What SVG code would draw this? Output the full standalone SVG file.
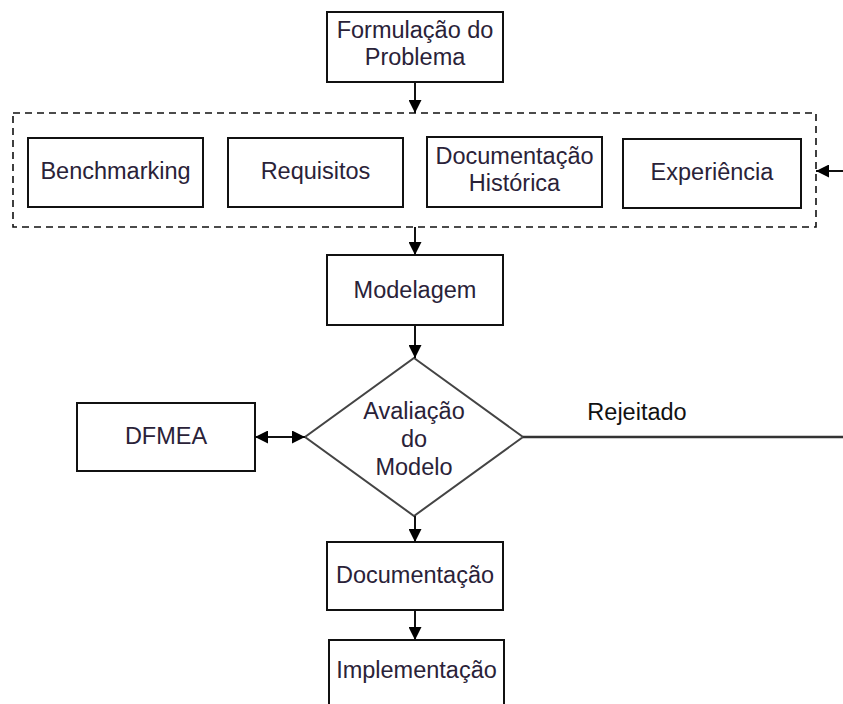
<svg xmlns="http://www.w3.org/2000/svg" width="843" height="704" viewBox="0 0 843 704">
  <style>
    .box { fill: #fff; stroke: #111; stroke-width: 2; }
    .dec { fill: #fff; stroke: #444; stroke-width: 2; }
    .grp { fill: none; stroke: #111; stroke-width: 1.6; stroke-dasharray: 7 5; }
    .lbl { font-family: "Liberation Sans", Arial, sans-serif; font-size: 23.5px; fill: #2a2238; text-anchor: middle; }
    .edge { fill: none; stroke: #111; stroke-width: 2; }
    .plain { fill: none; stroke: #333; stroke-width: 2.5; }
  </style>
  <defs>
    <marker id="arrow" viewBox="0 0 10 10" refX="10" refY="5" markerWidth="6.5" markerHeight="6.5" markerUnits="strokeWidth" orient="auto-start-reverse">
      <path d="M0,0 L10,5 L0,10 Z" fill="#000"/>
    </marker>
  </defs>
  <rect width="843" height="704" fill="#fff"/>

  <!-- grouping frame for the inputs -->
  <g id="inputs-frame">
    <rect class="grp" x="13" y="113" width="803" height="114"/>
  </g>

  <g id="formulacao">
    <rect class="box" x="327" y="12" width="176" height="70"/>
    <text class="lbl" x="415" y="38">Formulação do</text>
    <text class="lbl" x="415" y="65">Problema</text>
  </g>

  <g id="benchmarking">
    <rect class="box" x="28" y="138" width="175" height="69"/>
    <text class="lbl" x="115.5" y="179">Benchmarking</text>
  </g>

  <g id="requisitos">
    <rect class="box" x="228" y="138" width="175" height="69"/>
    <text class="lbl" x="315.5" y="179">Requisitos</text>
  </g>

  <g id="documentacao-historica">
    <rect class="box" x="427" y="137" width="175" height="70"/>
    <text class="lbl" x="514.5" y="164">Documentação</text>
    <text class="lbl" x="514.5" y="191">Histórica</text>
  </g>

  <g id="experiencia">
    <rect class="box" x="623" y="139" width="178" height="69"/>
    <text class="lbl" x="712" y="180">Experiência</text>
  </g>

  <g id="modelagem">
    <rect class="box" x="327" y="255" width="176" height="70"/>
    <text class="lbl" x="415" y="298">Modelagem</text>
  </g>

  <g id="avaliacao">
    <polygon class="dec" points="414,358 523,437 414,516 305,437"/>
    <text class="lbl" x="414" y="419">Avaliação</text>
    <text class="lbl" x="414" y="447">do</text>
    <text class="lbl" x="414" y="475">Modelo</text>
  </g>

  <g id="dfmea">
    <rect class="box" x="77" y="403" width="178" height="68"/>
    <text class="lbl" x="166" y="444">DFMEA</text>
  </g>

  <g id="documentacao">
    <rect class="box" x="327" y="542" width="176" height="68"/>
    <text class="lbl" x="415" y="583">Documentação</text>
  </g>

  <g id="implementacao">
    <rect class="box" x="329" y="640" width="175" height="72"/>
    <text class="lbl" x="416.5" y="678">Implementação</text>
  </g>

  <g id="connectors">
    <line class="edge" x1="415" y1="82" x2="415" y2="113" marker-end="url(#arrow)"/>
    <line class="edge" x1="415" y1="227" x2="415" y2="255" marker-end="url(#arrow)"/>
    <line class="edge" x1="415" y1="325" x2="415" y2="358" marker-end="url(#arrow)"/>
    <line class="edge" x1="255" y1="437" x2="305" y2="437" marker-start="url(#arrow)" marker-end="url(#arrow)"/>
    <line class="edge" x1="415" y1="516" x2="415" y2="542" marker-end="url(#arrow)"/>
    <line class="edge" x1="415" y1="610" x2="415" y2="640" marker-end="url(#arrow)"/>
    <line class="plain" x1="523" y1="437" x2="843" y2="437"/>
    <line class="edge" x1="843" y1="171" x2="816" y2="171" marker-end="url(#arrow)"/>
    <text class="lbl" x="637" y="420" style="fill:#111">Rejeitado</text>
  </g>
</svg>
